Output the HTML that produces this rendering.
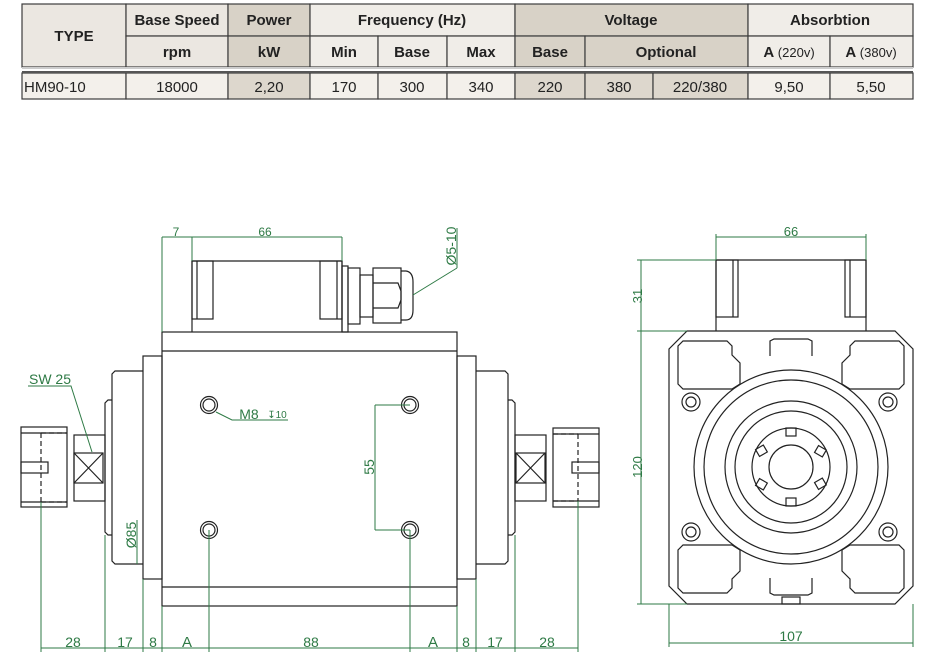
<!DOCTYPE html>
<html><head><meta charset="utf-8"><style>
body{margin:0;background:#fff;width:934px;height:670px;overflow:hidden;font-family:"Liberation Sans",sans-serif}
svg{position:absolute;left:0;top:0}
</style></head><body>
<svg width="934" height="670" viewBox="0 0 934 670" xmlns="http://www.w3.org/2000/svg">
<g stroke="#3c3c3c" stroke-width="1.2">
<rect x="22" y="4" width="104" height="63" fill="#ebe7e1"/>
<rect x="126" y="4" width="102" height="32" fill="#ebe7e1"/>
<rect x="228" y="4" width="82" height="32" fill="#d8d2c7"/>
<rect x="310" y="4" width="205" height="32" fill="#f0ede8"/>
<rect x="515" y="4" width="233" height="32" fill="#d8d2c7"/>
<rect x="748" y="4" width="165" height="32" fill="#f0ede8"/>
<rect x="126" y="36" width="102" height="31" fill="#ebe7e1"/>
<rect x="228" y="36" width="82" height="31" fill="#d8d2c7"/>
<rect x="310" y="36" width="68" height="31" fill="#f0ede8"/>
<rect x="378" y="36" width="69" height="31" fill="#f0ede8"/>
<rect x="447" y="36" width="68" height="31" fill="#f0ede8"/>
<rect x="515" y="36" width="70" height="31" fill="#d8d2c7"/>
<rect x="585" y="36" width="163" height="31" fill="#d8d2c7"/>
<rect x="748" y="36" width="82" height="31" fill="#f0ede8"/>
<rect x="830" y="36" width="83" height="31" fill="#f0ede8"/>
<rect x="22" y="73" width="104" height="26" fill="#f3f0eb"/>
<rect x="126" y="73" width="102" height="26" fill="#f3f0eb"/>
<rect x="228" y="73" width="82" height="26" fill="#ddd7cd"/>
<rect x="310" y="73" width="68" height="26" fill="#f3f0eb"/>
<rect x="378" y="73" width="69" height="26" fill="#f3f0eb"/>
<rect x="447" y="73" width="68" height="26" fill="#f3f0eb"/>
<rect x="515" y="73" width="70" height="26" fill="#ddd7cd"/>
<rect x="585" y="73" width="68" height="26" fill="#ddd7cd"/>
<rect x="653" y="73" width="95" height="26" fill="#ddd7cd"/>
<rect x="748" y="73" width="82" height="26" fill="#f3f0eb"/>
<rect x="830" y="73" width="83" height="26" fill="#f3f0eb"/>
</g>
<line x1="22" y1="72" x2="913" y2="72" stroke="#555" stroke-width="2"/>
<line x1="22" y1="68" x2="913" y2="68" stroke="#ccc" stroke-width="2"/>
<g font-size="15" fill="#222" text-anchor="middle" font-weight="bold">
<text x="74" y="41">TYPE</text>
<text x="177" y="25">Base Speed</text>
<text x="269" y="25">Power</text>
<text x="412" y="25">Frequency  (Hz)</text>
<text x="631" y="25">Voltage</text>
<text x="830" y="25">Absorbtion</text>
<text x="177" y="57">rpm</text>
<text x="269" y="57">kW</text>
<text x="344" y="57">Min</text>
<text x="412" y="57">Base</text>
<text x="481" y="57">Max</text>
<text x="550" y="57">Base</text>
<text x="666" y="57">Optional</text>
<text x="789" y="57">A <tspan font-weight="normal" font-size="13">(220v)</tspan></text>
<text x="871" y="57">A <tspan font-weight="normal" font-size="13">(380v)</tspan></text>
</g>
<g font-size="15" fill="#222" text-anchor="middle">
<text x="24" y="92" text-anchor="start">HM90-10</text>
<text x="177" y="92">18000</text>
<text x="269" y="92">2,20</text>
<text x="344" y="92">170</text>
<text x="412" y="92">300</text>
<text x="481" y="92">340</text>
<text x="550" y="92">220</text>
<text x="619" y="92">380</text>
<text x="700" y="92">220/380</text>
<text x="789" y="92">9,50</text>
<text x="871" y="92">5,50</text>
</g>

<g fill="none" stroke="#222" stroke-width="1.2">
<rect x="162" y="332" width="295" height="274"/>
<line x1="162" y1="351" x2="457" y2="351"/>
<line x1="162" y1="587" x2="457" y2="587"/>
<rect x="143" y="356" width="19" height="223"/>
<rect x="457" y="356" width="19" height="223"/>
<path d="M143 371 H115 L112 374 V561 L115 564 H143"/>
<path d="M476 371 H505 L508 374 V561 L505 564 H476"/>
<path d="M112 400 H108 L105 403 V532 L108 535 H112"/>
<path d="M508 400 H512 L515 403 V532 L512 535 H508"/>
<rect x="74" y="435" width="31" height="66"/>
<rect x="74" y="453" width="29" height="30"/>
<path d="M74 453 L103 483 M103 453 L74 483"/>
<rect x="515" y="435" width="31" height="66"/>
<rect x="516" y="453" width="29" height="30"/>
<path d="M516 453 L545 483 M545 453 L516 483"/>
<rect x="21" y="427" width="46" height="80"/>
<line x1="21" y1="433" x2="67" y2="433"/>
<line x1="21" y1="502" x2="67" y2="502"/>
<rect x="21" y="462" width="27" height="11"/>
<path d="M41 433 V502 M41 433 H67 M41 502 H67" stroke-dasharray="5,3"/>
<rect x="553" y="428" width="46" height="79"/>
<line x1="553" y1="434" x2="599" y2="434"/>
<line x1="553" y1="501" x2="599" y2="501"/>
<rect x="572" y="462" width="27" height="11"/>
<path d="M578 434 V501 M553 434 H578 M553 501 H578" stroke-dasharray="5,3"/>
<path d="M192 332 V261 H342 V332"/>
<rect x="192" y="261" width="21" height="58"/>
<line x1="197" y1="261" x2="197" y2="319"/>
<rect x="320" y="261" width="22" height="58"/>
<line x1="337" y1="261" x2="337" y2="319"/>
<rect x="342" y="266" width="6" height="66"/>
<rect x="348" y="268" width="12" height="56"/>
<rect x="360" y="275" width="13" height="42"/>
<rect x="373" y="268" width="28" height="55"/>
<path d="M373 283 H398 L401 291 V300 L398 308 H373"/>
<path d="M401 271 H406 Q413 272 413 282 V310 Q413 320 406 320 H401"/>
<circle cx="209" cy="405" r="8.5"/><circle cx="209" cy="405" r="6"/>
<circle cx="410" cy="405" r="8.5"/><circle cx="410" cy="405" r="6"/>
<circle cx="209" cy="530" r="8.5"/><circle cx="209" cy="530" r="6"/>
<circle cx="410" cy="530" r="8.5"/><circle cx="410" cy="530" r="6"/>
</g>
<g fill="none" stroke="#2e7a45" stroke-width="1">
<line x1="162" y1="237" x2="342" y2="237"/>
<line x1="162" y1="237" x2="162" y2="332"/>
<line x1="192" y1="237" x2="192" y2="261"/>
<line x1="342" y1="237" x2="342" y2="261"/>
<line x1="457" y1="228" x2="457" y2="268"/>
<path d="M457 268 L413 295"/>
<path d="M28 386 H71 L92 452"/>
<path d="M216 412 L232 420 H288"/>
<path d="M375 405 H410 M375 530 H410 M375 405 V530"/>
<line x1="137" y1="520" x2="137" y2="564"/>
<line x1="41" y1="648" x2="578" y2="648"/>
<path d="M41 502 V652 M105 535 V652 M143 579 V652 M162 606 V652 M209 530 V652 M410 530 V652 M457 606 V652 M476 579 V652 M515 535 V652 M578 501 V652"/>
</g>
<g font-size="13" fill="#2e7a45" text-anchor="middle">
<text x="176" y="236" font-size="12">7</text>
<text x="265" y="236" font-size="12">66</text>
<text transform="translate(456,246) rotate(-90)" font-size="14">Ø5-10</text>
<text x="50" y="384" font-size="14">SW 25</text>
<text x="249" y="419" font-size="14">M8</text>
<text x="277" y="418" font-size="10">↧10</text>
<text transform="translate(374,467) rotate(-90)" font-size="14">55</text>
<text transform="translate(136,535) rotate(-90)" font-size="14">Ø85</text>
<text x="73" y="647" font-size="14">28</text>
<text x="125" y="647" font-size="14">17</text>
<text x="153" y="647" font-size="14">8</text>
<text x="187" y="647" font-size="15">A</text>
<text x="311" y="647" font-size="14">88</text>
<text x="433" y="647" font-size="15">A</text>
<text x="466" y="647" font-size="14">8</text>
<text x="495" y="647" font-size="14">17</text>
<text x="547" y="647" font-size="14">28</text>
</g>

<g fill="none" stroke="#222" stroke-width="1.2">
<path d="M687 331 H895 L913 349 V586 L895 604 H687 L669 586 V349 Z"/>
<path d="M716 331 V260 H866 V331"/>
<rect x="716" y="260" width="22" height="57"/>
<line x1="733" y1="260" x2="733" y2="317"/>
<rect x="845" y="260" width="21" height="57"/>
<line x1="850" y1="260" x2="850" y2="317"/>
<path d="M683 341 H727 L732 346 V355 L740 363 V384 L732 389 H683 L678 384 V346 Z"/>
<path d="M899 341 H855 L850 346 V355 L842 363 V384 L850 389 H899 L904 384 V346 Z"/>
<path d="M683 593 H727 L732 588 V579 L740 571 V550 L732 545 H683 L678 550 V588 Z"/>
<path d="M899 593 H855 L850 588 V579 L842 571 V550 L850 545 H899 L904 550 V588 Z"/>
<path d="M770 356 V341 L774 339 H808 L812 341 V356"/>
<path d="M770 578 V593 L774 595 H808 L812 593 V578"/>
<rect x="782" y="597" width="18" height="7"/>
<circle cx="791" cy="467" r="97"/>
<circle cx="791" cy="467" r="87"/>
<circle cx="791" cy="467" r="66"/>
<circle cx="791" cy="467" r="56"/>
<circle cx="791" cy="467" r="39"/>
<circle cx="791" cy="467" r="22"/>
<rect x="786" y="428" width="10" height="8"/>
<rect x="786" y="498" width="10" height="8"/>
<rect x="757" y="447" width="9" height="8" transform="rotate(-30 761 451)"/>
<rect x="816" y="447" width="9" height="8" transform="rotate(30 820 451)"/>
<rect x="757" y="480" width="9" height="8" transform="rotate(30 761 484)"/>
<rect x="816" y="480" width="9" height="8" transform="rotate(-30 820 484)"/>
<circle cx="691" cy="402" r="9"/><circle cx="691" cy="402" r="5"/>
<circle cx="888" cy="402" r="9"/><circle cx="888" cy="402" r="5"/>
<circle cx="691" cy="532" r="9"/><circle cx="691" cy="532" r="5"/>
<circle cx="888" cy="532" r="9"/><circle cx="888" cy="532" r="5"/>
</g>
<g fill="none" stroke="#2e7a45" stroke-width="1">
<line x1="716" y1="237" x2="866" y2="237"/>
<line x1="716" y1="234" x2="716" y2="260"/>
<line x1="866" y1="234" x2="866" y2="260"/>
<line x1="641" y1="260" x2="641" y2="604"/>
<line x1="637" y1="260" x2="716" y2="260"/>
<line x1="637" y1="331" x2="687" y2="331"/>
<line x1="637" y1="604" x2="687" y2="604"/>
<line x1="669" y1="604" x2="669" y2="647"/>
<line x1="913" y1="604" x2="913" y2="647"/>
<line x1="669" y1="643" x2="913" y2="643"/>
</g>
<g font-size="13" fill="#2e7a45" text-anchor="middle">
<text x="791" y="236">66</text>
<text transform="translate(642,296) rotate(-90)" font-size="13">31</text>
<text transform="translate(642,467) rotate(-90)">120</text>
<text x="791" y="641" font-size="14">107</text>
</g>
</svg>
</body></html>
